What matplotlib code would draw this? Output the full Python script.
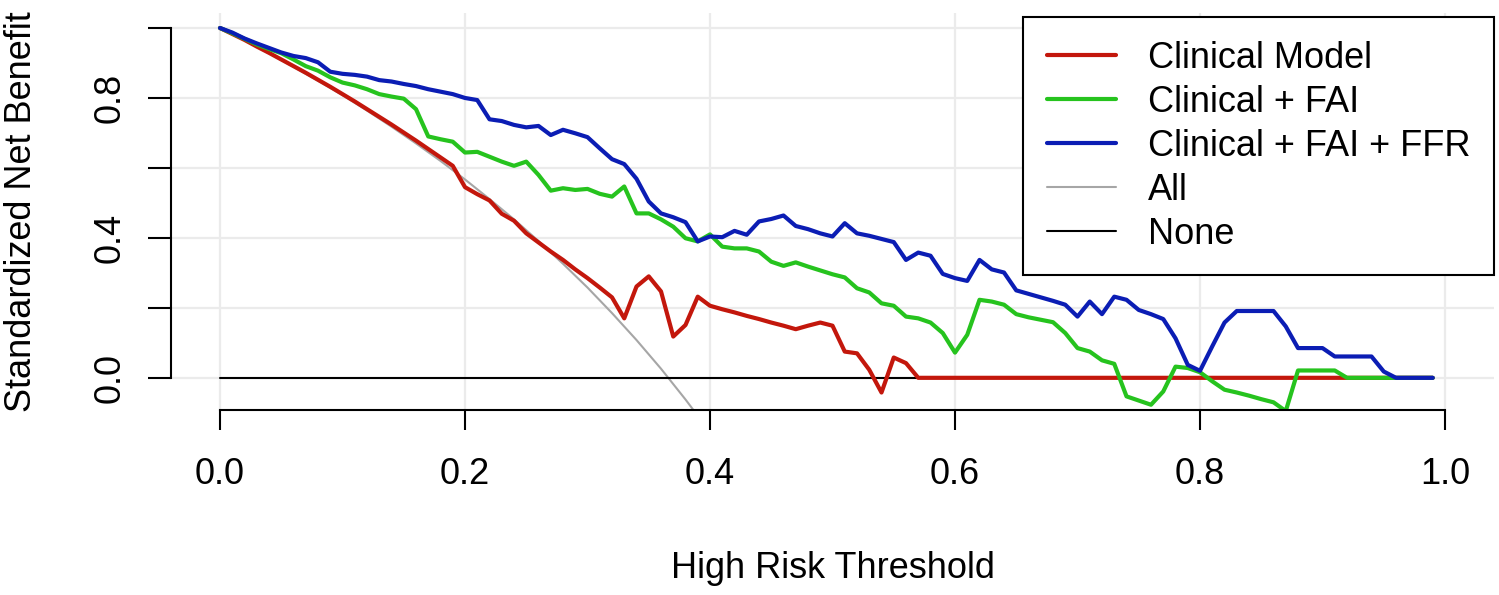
import numpy as np
import matplotlib
matplotlib.use("Agg")
import matplotlib.pyplot as plt

# Font close to the Arial/Helvetica used by R graphics
plt.rcParams['font.family'] = ['Liberation Sans', 'DejaVu Sans']

# Threshold probabilities (0.00 to 0.99 by 0.01)
thresholds = np.round(np.arange(0, 1.0, 0.01), 2)

# Standardized net benefit
clinical = [1.000, 0.983, 0.966, 0.947, 0.929, 0.910, 0.891, 0.872, 0.852, 0.832,
            0.811, 0.790, 0.768, 0.746, 0.724, 0.701, 0.678, 0.654, 0.630, 0.606,
            0.545, 0.525, 0.507, 0.469, 0.449, 0.413, 0.387, 0.361, 0.337, 0.310,
            0.285, 0.258, 0.230, 0.170, 0.261, 0.290, 0.247, 0.118, 0.151, 0.232,
            0.206, 0.196, 0.187, 0.177, 0.168, 0.158, 0.149, 0.139, 0.149, 0.158,
            0.149, 0.075, 0.070, 0.023, -0.042, 0.058, 0.042] + [0.0] * 43

clinical_fai = [1.000, 0.985, 0.969, 0.953, 0.940, 0.928, 0.910, 0.891, 0.878, 0.859,
                0.844, 0.836, 0.825, 0.811, 0.804, 0.798, 0.768, 0.690, 0.682, 0.675,
                0.644, 0.646, 0.632, 0.618, 0.606, 0.618, 0.580, 0.535, 0.542, 0.537,
                0.540, 0.526, 0.518, 0.547, 0.470, 0.470, 0.453, 0.432, 0.399, 0.390,
                0.410, 0.375, 0.370, 0.370, 0.361, 0.332, 0.320, 0.330, 0.318, 0.307,
                0.296, 0.287, 0.256, 0.244, 0.213, 0.206, 0.175, 0.170, 0.158, 0.128,
                0.072, 0.123, 0.223, 0.218, 0.209, 0.182, 0.173, 0.166, 0.159, 0.128,
                0.085, 0.075, 0.050, 0.040, -0.053, -0.065, -0.077, -0.039, 0.032, 0.028,
                0.016, -0.010, -0.034, -0.042, -0.051, -0.061, -0.070, -0.095, 0.021, 0.021,
                0.021, 0.021] + [0.0] * 8

clinical_fai_ffr = [1.000, 0.987, 0.970, 0.956, 0.943, 0.930, 0.920, 0.914, 0.902, 0.875,
                    0.869, 0.866, 0.861, 0.851, 0.847, 0.840, 0.834, 0.825, 0.818, 0.811,
                    0.800, 0.794, 0.739, 0.734, 0.723, 0.716, 0.720, 0.694, 0.709, 0.699,
                    0.688, 0.656, 0.625, 0.611, 0.569, 0.504, 0.470, 0.459, 0.445, 0.390,
                    0.404, 0.402, 0.420, 0.409, 0.447, 0.454, 0.464, 0.434, 0.425, 0.413,
                    0.404, 0.442, 0.413, 0.406, 0.397, 0.388, 0.337, 0.358, 0.349, 0.297,
                    0.285, 0.277, 0.337, 0.310, 0.301, 0.250, 0.240, 0.230, 0.220, 0.209,
                    0.175, 0.218, 0.182, 0.232, 0.223, 0.194, 0.182, 0.168, 0.113, 0.037,
                    0.020, 0.090, 0.158, 0.191, 0.191, 0.191, 0.191, 0.147, 0.085, 0.085,
                    0.085, 0.061, 0.061, 0.061, 0.061, 0.018] + [0.0] * 4

# Treat-all curve (read at 0.02 steps)
all_x = [0.00, 0.02, 0.04, 0.06, 0.08, 0.10, 0.12, 0.14, 0.16, 0.18, 0.20,
         0.22, 0.24, 0.26, 0.28, 0.30, 0.32, 0.34, 0.36, 0.38, 0.40]
all_y = [1.000, 0.965, 0.928, 0.889, 0.849, 0.808, 0.764, 0.718, 0.670, 0.620, 0.567,
         0.511, 0.453, 0.391, 0.326, 0.258, 0.185, 0.108, 0.026, -0.062, -0.155]

# Treat-none curve
none_y = [0.0] * 100

fig = plt.figure(figsize=(14.99, 5.95), dpi=100)
ax = fig.add_axes([0.11408, 0.31092, 0.88259, 0.66672])

# Light grid behind the curves
ax.set_axisbelow(True)
ax.grid(True, color="#EBEBEB", linewidth=1.6)

line_kw = dict(solid_capstyle="round", solid_joinstyle="round")
ax.plot(all_x, all_y, color="#A6A6A6", linewidth=1.5, label="All", **line_kw)
ax.plot(thresholds, none_y, color="black", linewidth=1.5, label="None", **line_kw)
ax.plot(thresholds, clinical, color="#C3170C", linewidth=3.0, label="Clinical Model", **line_kw)
ax.plot(thresholds, clinical_fai, color="#26C31E", linewidth=3.0, label="Clinical + FAI", **line_kw)
ax.plot(thresholds, clinical_fai_ffr, color="#0B1DB4", linewidth=3.0, label="Clinical + FAI + FFR", **line_kw)

# R style axes: 4% padding, axis lines only over the tick range
ax.set_xlim(-0.04, 1.04)
ax.set_ylim(-0.092, 1.042)
ax.set_xticks([0.0, 0.2, 0.4, 0.6, 0.8, 1.0])
ax.set_xticklabels(["0.0", "0.2", "0.4", "0.6", "0.8", "1.0"])
ax.set_yticks([0.0, 0.2, 0.4, 0.6, 0.8, 1.0])
ax.set_yticklabels(["0.0", "", "0.4", "", "0.8", ""], rotation=90, va="center")
for side in ["top", "right"]:
    ax.spines[side].set_visible(False)
ax.spines["left"].set_bounds(0, 1)
ax.spines["bottom"].set_bounds(0, 1)
ax.spines["left"].set_linewidth(1.5)
ax.spines["bottom"].set_linewidth(1.5)
ax.tick_params(axis="x", length=14.5, width=1.5, pad=19, labelsize=26)
ax.tick_params(axis="y", length=16.5, width=1.5, pad=15, labelsize=26)

fig.text(0.5555, 0.0286, "High Risk Threshold", ha="center", va="baseline", fontsize=26)
fig.text(0.0145, 0.645, "Standardized Net Benefit", ha="center", va="center",
         rotation=90, fontsize=26)

# Legend in the R order
handles, labels = ax.get_legend_handles_labels()
order = [2, 3, 4, 0, 1]
leg = ax.legend([handles[i] for i in order], [labels[i] for i in order],
                loc="upper right", bbox_to_anchor=(1.0, 0.99), borderaxespad=0,
                fontsize=26, frameon=True, fancybox=False, framealpha=1,
                edgecolor="black", handlelength=1.9, handletextpad=0.9,
                labelspacing=0.25, borderpad=0.65)
leg.get_frame().set_linewidth(1.5)

plt.savefig("out.png", dpi=100)
plt.close()
